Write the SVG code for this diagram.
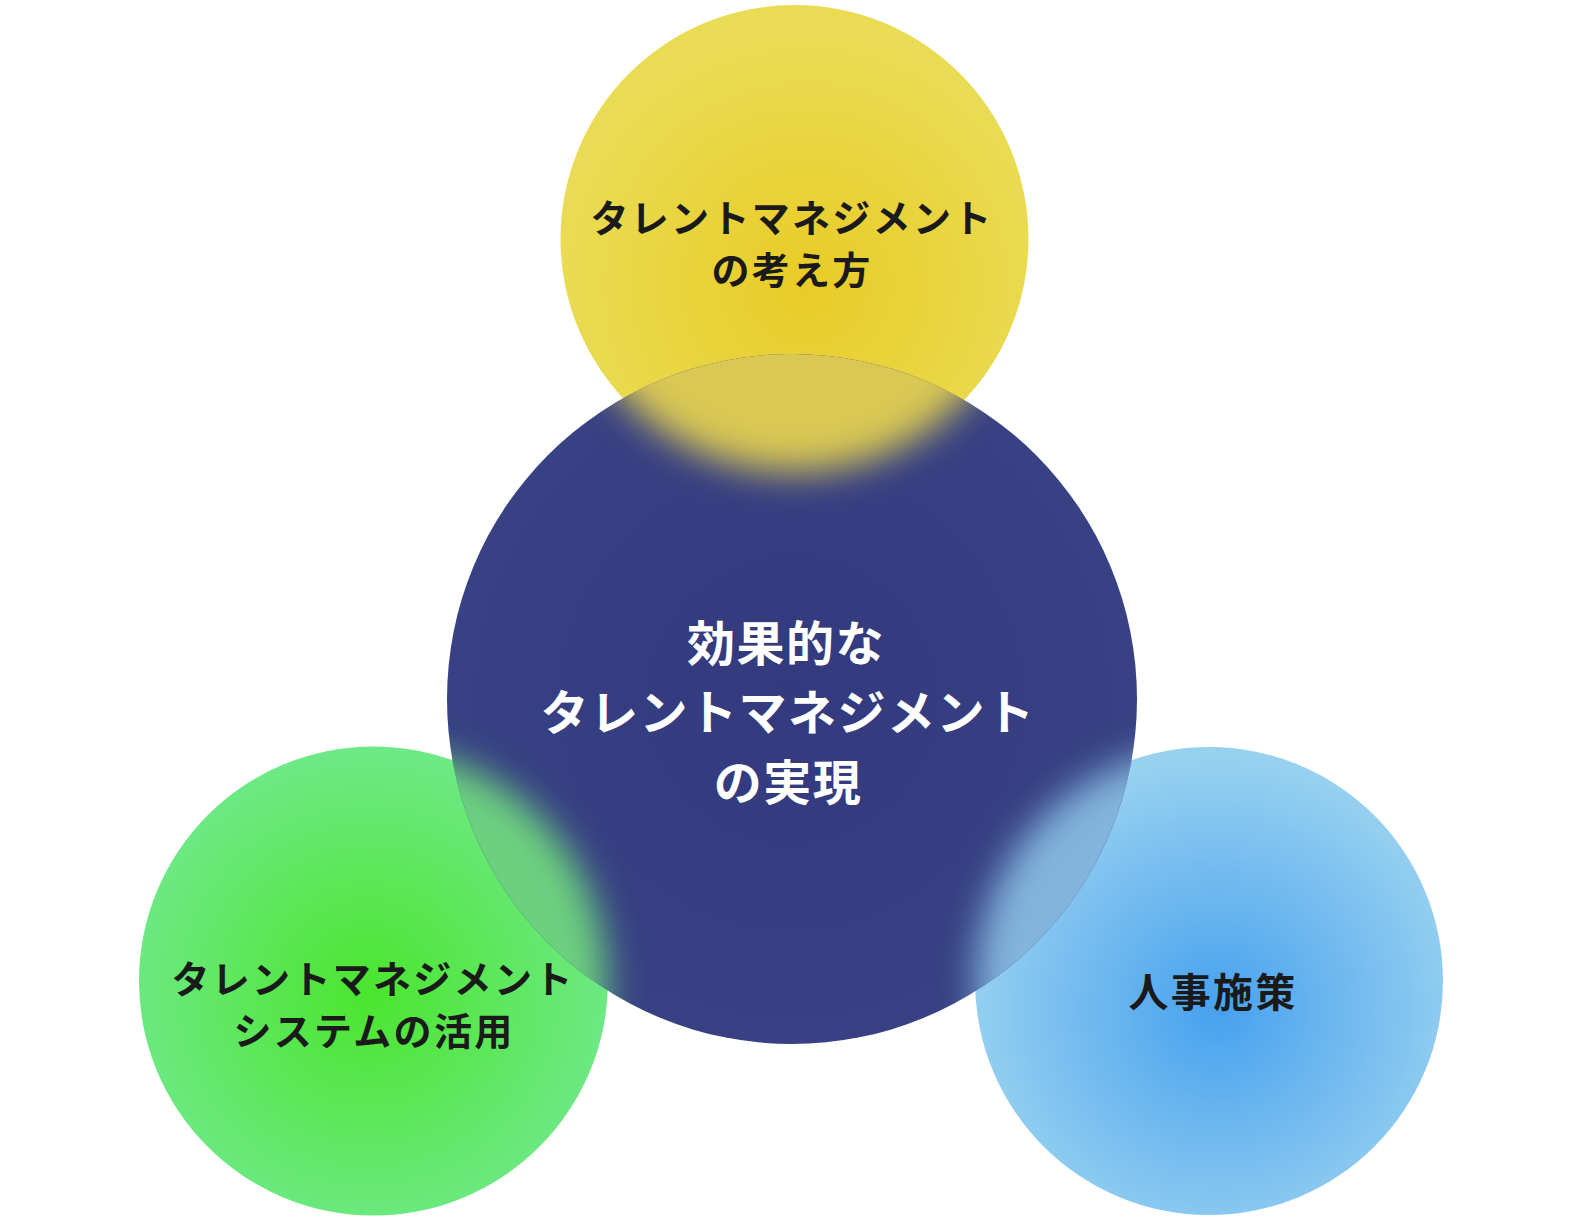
<svg xmlns="http://www.w3.org/2000/svg" width="1578" height="1227" viewBox="0 0 1578 1227">
  <style>
    .lbl { font-family: "Noto Sans CJK JP", "Noto Sans", sans-serif; font-weight: 700; text-anchor: middle; }
    .dark { fill: #1a1a1a; font-size: 38px; letter-spacing: 2.3px; }
    .light { fill: #ffffff; font-size: 48px; letter-spacing: 1.5px; }
  </style>
  <defs>
    <radialGradient id="gYellow" gradientUnits="userSpaceOnUse" cx="806" cy="285" r="250">
      <stop offset="0" stop-color="#e9cb26"/>
      <stop offset="1" stop-color="#e9dc54"/>
    </radialGradient>
    <radialGradient id="gGreen" gradientUnits="userSpaceOnUse" cx="368" cy="995" r="250">
      <stop offset="0" stop-color="#4be52e"/>
      <stop offset="1" stop-color="#6ee987"/>
    </radialGradient>
    <radialGradient id="gBlue" gradientUnits="userSpaceOnUse" cx="1218" cy="1010" r="255">
      <stop offset="0" stop-color="#47a1ee"/>
      <stop offset="1" stop-color="#98d1f0"/>
    </radialGradient>
    <radialGradient id="gNavy" gradientUnits="userSpaceOnUse" cx="792" cy="699" r="345">
      <stop offset="0" stop-color="#333a7e"/>
      <stop offset="1" stop-color="#374183"/>
    </radialGradient>
    <clipPath id="navyClip"><circle cx="792" cy="699" r="345"/></clipPath>
    <filter id="soft" x="-40%" y="-40%" width="180%" height="180%">
      <feGaussianBlur stdDeviation="18"/>
    </filter>
  </defs>

  <rect width="1578" height="1227" fill="#ffffff"/>

  <g id="node-yellow">
    <circle cx="794.5" cy="239" r="234" fill="url(#gYellow)"/>
  </g>
  <g id="node-green">
    <circle cx="373.5" cy="981" r="234.5" fill="url(#gGreen)"/>
  </g>
  <g id="node-blue">
    <circle cx="1209" cy="981" r="234" fill="url(#gBlue)"/>
  </g>

  <g id="node-center">
    <circle cx="792" cy="699" r="345" fill="url(#gNavy)"/>
    <g clip-path="url(#navyClip)">
      <circle cx="794.5" cy="239" r="233" fill="#d9c853" filter="url(#soft)"/>
      <circle cx="373.5" cy="981" r="233" fill="#6cd07f" filter="url(#soft)"/>
      <circle cx="1209" cy="981" r="233" fill="#82b4dc" filter="url(#soft)"/>
    </g>
  </g>

  <g id="connectors"></g>

  <g id="labels">
    <text class="lbl dark" x="792" y="232">タレントマネジメント</text>
    <text class="lbl dark" x="792" y="284">の考え方</text>
    <text class="lbl dark" x="373" y="993">タレントマネジメント</text>
    <text class="lbl dark" x="374" y="1045">システムの活用</text>
    <text class="lbl dark" x="1213" y="1007" style="font-size:40px">人事施策</text>
    <text class="lbl light" x="786" y="661">効果的な</text>
    <text class="lbl light" x="788" y="730">タレントマネジメント</text>
    <text class="lbl light" x="788" y="800">の実現</text>
  </g>
</svg>
